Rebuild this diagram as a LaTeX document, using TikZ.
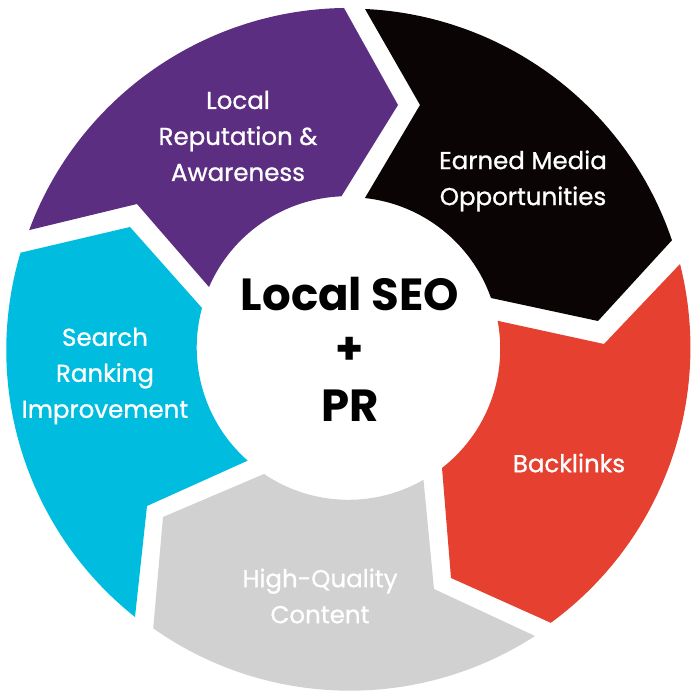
\documentclass[tikz,border=0pt]{standalone}
\usepackage{fontspec}
\setmainfont{Poppins}
\newfontfamily\segfont{Poppins}[FakeBold=0.9]
\definecolor{segpurple}{HTML}{5B2E82}
\definecolor{segblack}{HTML}{0A0405}
\definecolor{segred}{HTML}{E54030}
\definecolor{seggrey}{HTML}{D1D1D1}
\definecolor{segcyan}{HTML}{00BDE0}
\tikzset{
    seglabel/.style={text=white, align=center, font=\segfont\fontsize{24.5}{36}\selectfont},
    hublabel/.style={text=black, font=\fontsize{45}{45}\selectfont\bfseries}
}
\begin{document}
\begin{tikzpicture}[x=1pt,y=1pt]
    \useasboundingbox (0,0) rectangle (700,700);
    \fill[segpurple] (344,692) arc[start angle=90.8, end angle=159.6, radius=341] -- (137,496) -- (209,413) arc[start angle=156.5, end angle=92.3, radius=151] -- (398,595) -- cycle;
    \fill[segblack] (365,691) arc[start angle=87.3, end angle=18.7, radius=341] -- (598,379) -- (491,402) arc[start angle=19.4, end angle=83.8, radius=151] -- (420,595) -- cycle;
    \fill[segred] (680,436) arc[start angle=14.2, end angle=-53.8, radius=341] -- (451,122) -- (442,232) arc[start angle=-52.1, end angle=10.7, radius=151] -- (604,356) -- cycle;
    \fill[seggrey] (535,64) arc[start angle=-57.1, end angle=-125.2, radius=341] -- (163,183) -- (264,226) arc[start angle=-124, end angle=-60.2, radius=151] -- (434,111) -- cycle;
    \fill[segcyan] (135,83) arc[start angle=231.5, end angle=163.4, radius=341] -- (130,473) -- (202,392) arc[start angle=164.8, end angle=228.5, radius=151] -- (147,194) -- cycle;
    \node[seglabel] (reputation) at (238,564) {Local\\Reputation \&\\Awareness};
    \node[seglabel] (media) at (523,519) {Earned Media\\Opportunities};
    \node[seglabel] (backlinks) at (569,237) {Backlinks};
    \node[seglabel] (content) at (320,104) {High-Quality\\Content};
    \node[seglabel] (ranking) at (105,324) {Search\\Ranking\\Improvement};
    \node[hublabel] (hubtop) at (350,406) {Local SEO};
    \node[hublabel] (hubplus) at (350,349) {+};
    \node[hublabel] (hubbottom) at (350,294) {PR};
\end{tikzpicture}
\end{document}
